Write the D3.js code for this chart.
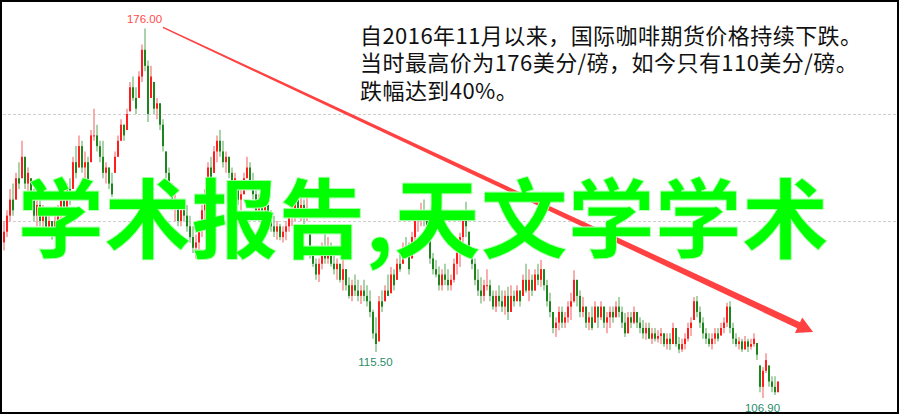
<!DOCTYPE html>
<html><head><meta charset="utf-8">
<script src="https://cdn.jsdelivr.net/npm/d3@7/dist/d3.min.js"></script>
<style>html,body{margin:0;padding:0;background:#fff;}svg{display:block;}</style>
</head><body>
<svg id="c" width="901" height="415"></svg>
<script>
// ---- data (cents per pound), one entry per trading bar ----
const highs = [140,142,146,147,149,151,155,152,150,148,146,144,145,143,142,141,140,141,143,145,
146,147,148,152,154,156,155,153,152,157,161,158,155,155,151,150,149,153,156,159,
158,161,166,167,165,168,173,176,170,169,166,163,162,159,153,150,147,145,144,143,
144,143,141,139,137.5,140,143,146,151,152,154,156,157,155,153,152,150,149,147,146,
149,152,151,149,146,145,146,145,143,142,141,140,139.5,139,140,142,143,145,146,145,
144,144.5,138,134.6,133,133,136,138,137,136,134,133,132,133,131,129.5,129,130,129,128,
129,128,127,123.4,122,126,127,128,130,131.4,131,133,134.6,136,137,136,138,141,142,143.4,
144,141,137,134,132.7,131.5,131,132,131,130,133,135,137.8,142,143.6,138,135,133,131,129.5,
129,131,129,127,127,128,127,127,127.7,128,127,128,127,130,132,131,130,131,132,132.7,
131,129,126.6,123,122,124,124,123,125,126.6,130.8,129,127,125.8,124,123,124,125,124,125,
124,123,124,124,125,125.8,124,122.8,123,123,124,123,122,121.5,121,121,120,120,119.6,120,
119,119,119,121,120,118.3,118,119,121,122,125.8,126,124,122,120,119,119,120,120,121,
122,124.7,125,121,119,118.3,118,118.5,118,118,119,117.2,113,112.7,115.3,113,111,111,110];
const lows = [134.5,137,140,141,144,146,148,146,145,143,140,139,139,138,137,137,136.5,137,138,140,
141,142,143,146,148,150,149,147,146,151,155,153,151,148,147,146,144.5,149,152,155,
155,157,160.5,162.5,160,163,166,168,158.5,163,160,159,157,153,148,145.5,142,140,139,139,
140,138,136,134,133,134.5,137,140,145,147,149,151,152,150,149,148,146,145,143,142,
145,148,146,144,141,140,141.5,141,139,138,137,136.5,136.4,136,136.4,138,139,140,141,140,
139,140,133,131.4,129,128.6,131,132,132,131.5,130,129,128.5,127,127,125.5,125,126,125,124.5,
125,124,122,118,115.5,117.5,123,125,126,126.5,127,129,130.5,132,133,130,133,134.6,138,139,
139,136,132,130,129.5,127,127,128,127,127,128.5,130,131.4,136,137,133,131,128,126,124.6,
125,127,125,123.4,123,124,123,122.5,121.5,123,124,125,124,126,126.6,125,126,127,128,127.7,
127,124,122,119,118.3,119.6,120,120,121,121.5,124.7,124,122,122,120,119.6,119.6,121,120,121.5,
120,119,120,121,122,122,120,118.3,119,120,120.7,120,119,118,117.8,118,117,117.5,117.3,117,
116.5,116,115.9,117,116.5,115.3,115.5,116,117.5,118.5,121.5,122,120,118,117,116.5,116,117,117.5,118.6,
119,120.2,119,117,116.5,116,115.5,116,115.5,116,116.5,114,108,106.9,111.6,109,108,107.5,108];
const closes = [138,141,144,142,148,147,152,147,149,144,141,143,140,141,138,140,137,140,142,144,
142,146,144,151,149,154,150,151,147,156,156,154,152,149,150,147,145,152,155,158,
156,160,165,163,161,167,172,169,160,167,161,162,158,154,149,146,143,144,140,142,
141,139,137,135,136,139,142,145,150,148,153,155,153,151,152,149,147,148,144,145,
148,150,147,145,142,144,142,143,140,139,138,139,137,138,139,141,142,144,142,143,
141,141,134,132,130,132,135,133,135,132,131,132,129,131,128,126,128,127,126,127,
126,125,123,119,117,125,124,127,126,130,128,132,131,135,134,131,137,140,141,142,
140,137,133,131,130,128,130,129,128,129,132,134,137,141,139,134,132,129,127,126,
128,128,126,124,126,125,124,126,123,126,125,127,125,129,127,129,127,130,129,131,
128,125,123,120,121,123,121,122,124,125,129,126,123,124,121,122,120,124,122,124,
121,122,123,122,124,123,121,119,122,121,123,121,120,119,120,118,119,118,118.5,119,
117,118,117,120,117,116,117,118,120,121,125,123,121,119,118,117,118,119,118,120,
121,124,120,118,117,117.5,116,117.5,116.5,117,118,115,109,112,114,110,109,108,110];
const firstOpen = 136;
const gridValues = [160, 140];
const marks = [{i: 47, v: 176.00, label: "176.00", pos: "top", color: "#ff4a4a"},
               {i: 124, v: 115.50, label: "115.50", pos: "bottom", color: "#2a8c6a"},
               {i: 253, v: 106.90, label: "106.90", pos: "bottom", color: "#2a8c6a"}];
const arrowFrom = [53, 176.2];
const arrowTo = [269.7, 119.25];
const noteLines = ["自2016年11月以来，国际咖啡期货价格持续下跌。",
                   "当时最高价为176美分/磅，如今只有110美分/磅。",
                   "跌幅达到40%。"];
const overlayText = "学术报告,天文学学术";

// ---- drawing ----
const svg = d3.select("#c");
const x = d3.scaleLinear().domain([0, highs.length - 1]).range([4, 778]);
const y = d3.scaleLinear().domain([140, 160]).range([221, 114]);

// grid
svg.selectAll("line.grid").data(gridValues).join("line")
  .attr("x1", 3).attr("x2", 897)
  .attr("y1", d => Math.round(y(d)) + 0.5).attr("y2", d => Math.round(y(d)) + 0.5)
  .attr("stroke", "#cfcfcf").attr("stroke-width", 1).attr("stroke-dasharray", "3,2");

const bars = highs.map((h, i) => {
  const lo = lows[i], c = closes[i];
  let o = i === 0 ? firstOpen : closes[i - 1];
  o = Math.max(lo, Math.min(h, o));
  return {i, h, lo, o, c, up: c >= o};
});

const g = svg.append("g");
g.selectAll("line.wick").data(bars).join("line")
  .attr("x1", d => x(d.i)).attr("x2", d => x(d.i))
  .attr("y1", d => y(d.h)).attr("y2", d => y(d.lo))
  .attr("stroke", d => d.up ? "#f79a9a" : "#94c894").attr("stroke-width", 1.6);
g.selectAll("rect.body").data(bars).join("rect")
  .attr("x", d => x(d.i) - 1).attr("width", 2)
  .attr("y", d => y(Math.max(d.o, d.c)))
  .attr("height", d => Math.max(1, Math.abs(y(d.o) - y(d.c))))
  .attr("fill", d => d.up ? "#ff1e1e" : "#1c861c");

// price labels
svg.selectAll("text.mk").data(marks).join("text")
  .attr("x", d => x(d.i) - 0.5)
  .attr("y", d => d.pos === "top" ? y(d.v) - 5 : y(d.v) + 14)
  .attr("text-anchor", "middle")
  .attr("font-family", "'Liberation Sans', Arial, sans-serif")
  .attr("font-size", 11.5)
  .attr("fill", d => d.color)
  .text(d => d.label);

// tapered arrow
const x0 = x(arrowFrom[0]), y0 = y(arrowFrom[1]);
const x1 = x(arrowTo[0]), y1 = y(arrowTo[1]);
const len = Math.hypot(x1 - x0, y1 - y0);
const ux = (x1 - x0) / len, uy = (y1 - y0) / len;
const nx = -uy, ny = ux;
const headLen = 16, headHalf = 8.5, w0 = 0.7, w1 = 3.4;
const bx = x1 - headLen * ux, by = y1 - headLen * uy;
const pts = [
  [x0 + nx * w0, y0 + ny * w0],
  [bx + nx * w1, by + ny * w1],
  [bx + nx * headHalf, by + ny * headHalf],
  [x1, y1],
  [bx - nx * headHalf, by - ny * headHalf],
  [bx - nx * w1, by - ny * w1],
  [x0 - nx * w0, y0 - ny * w0]
];
svg.append("path").attr("d", d3.line()(pts) + "Z").attr("fill", "#ff4141");

// note text (one text block, one tspan per line)
svg.append("text")
  .attr("font-family", "'Noto Sans CJK SC', sans-serif")
  .attr("font-size", 22).attr("letter-spacing", 0.45).attr("fill", "#111")
  .selectAll("tspan").data(noteLines).join("tspan")
  .attr("x", 360).attr("y", (d, i) => 43.5 + i * 27.5)
  .text(d => d);

// overlay text
svg.append("text")
  .attr("x", 423).attr("y", 252)
  .attr("text-anchor", "middle")
  .attr("font-family", "'Noto Sans CJK SC', sans-serif")
  .attr("font-weight", 700)
  .attr("font-size", 87)
  .attr("fill", "#00ff00")
  .attr("stroke", "#b8ffb8").attr("stroke-width", 0.8)
  .text(overlayText);

// frame
svg.append("rect").attr("x", 1).attr("y", 1).attr("width", 897).attr("height", 412)
  .attr("fill", "none").attr("stroke", "#000").attr("stroke-width", 2);
</script>
</body></html>
